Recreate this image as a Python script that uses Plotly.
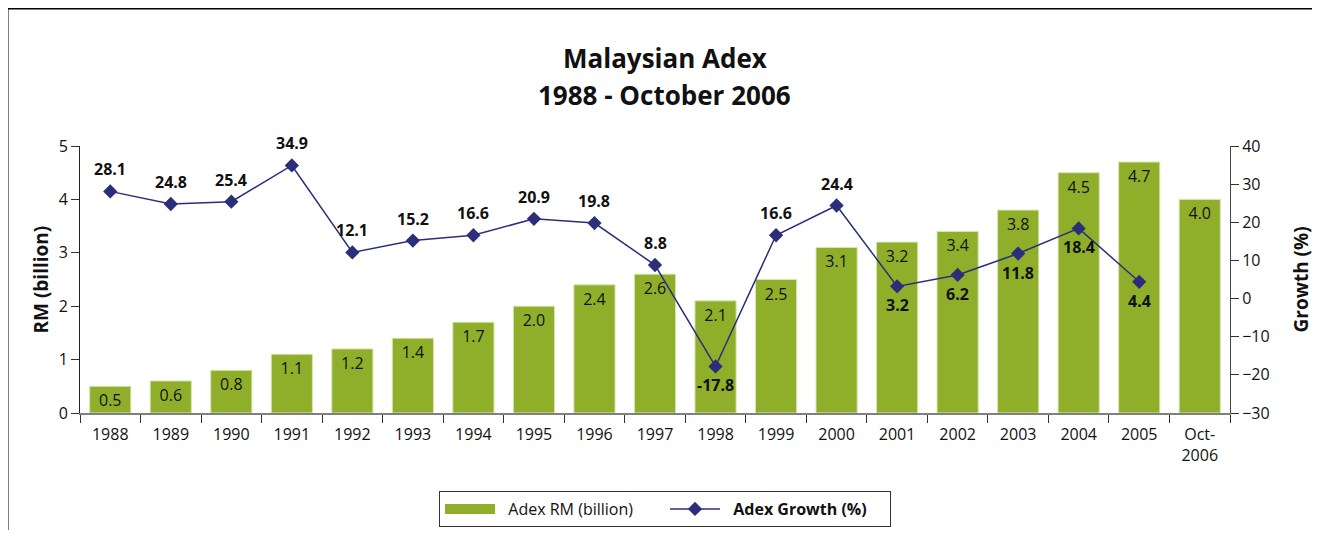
import plotly.graph_objects as go

categories = ["1988", "1989", "1990", "1991", "1992", "1993", "1994", "1995", "1996",
              "1997", "1998", "1999", "2000", "2001", "2002", "2003", "2004", "2005",
              "Oct-<br>2006"]
adex_rm = [0.5, 0.6, 0.8, 1.1, 1.2, 1.4, 1.7, 2.0, 2.4, 2.6, 2.1, 2.5, 3.1, 3.2, 3.4,
           3.8, 4.5, 4.7, 4.0]
growth = [28.1, 24.8, 25.4, 34.9, 12.1, 15.2, 16.6, 20.9, 19.8, 8.8, -17.8, 16.6, 24.4,
          3.2, 6.2, 11.8, 18.4, 4.4, None]
growth_label_pos = ["above"] * 10 + ["below", "above", "above", "below", "below",
                                     "below", "below", "below", None]

FONT = "Open Sans"
GREEN = "#8FAF2B"
NAVY = "#2B2F7A"

# The page body has an 8px margin; work in reference pixel coordinates
OFF = 8
W, H = 1322 - 2 * OFF, 538 - 2 * OFF
L, R, T, B = 80, 1230, 146, 413          # plot area in reference pixels
def px(p):
    return (p - L) / (R - L)
def py(p):
    return (B - p) / (B - T)

fig = go.Figure()
fig.add_trace(go.Bar(
    x=categories, y=adex_rm, name="Adex RM (billion)", showlegend=False,
    marker=dict(color=GREEN, line=dict(color="#D8E4B0", width=1)),
    width=0.68,
    text=[f"{v:.1f}" for v in adex_rm], textposition="inside",
    insidetextanchor="end", constraintext="none",
    textfont=dict(family=FONT, size=16, color="#111111"),
    yaxis="y",
))
# legend swatch for the bars (wide rectangle like the original)
fig.add_trace(go.Scatter(
    x=[None], y=[None], name="&nbsp;&nbsp;Adex RM (billion)", mode="lines",
    line=dict(color=GREEN, width=12), yaxis="y", legendrank=1,
))
fig.add_trace(go.Scatter(
    x=categories, y=growth, name="&nbsp;&nbsp;<b>Adex Growth (%)</b>",
    mode="lines+markers",
    line=dict(color=NAVY, width=1.5),
    marker=dict(symbol="diamond", size=11, color=NAVY),
    yaxis="y2", legendrank=2,
))

annotations = []
for i, (g, pos) in enumerate(zip(growth, growth_label_pos)):
    if g is None:
        continue
    annotations.append(dict(
        x=i, y=g, xref="x", yref="y2", text=f"<b>{g:.1f}</b>", showarrow=False,
        xanchor="center", yanchor="middle",
        yshift=22 if pos == "above" else -19,
        font=dict(family=FONT, size=16, color="#111111"),
    ))

annotations += [
    dict(x=px(665), y=py(58), xref="paper", yref="paper", text="<b>Malaysian Adex</b>",
         xanchor="center", yanchor="middle",
         showarrow=False, font=dict(family=FONT, size=26, color="#111111")),
    dict(x=px(665), y=py(95), xref="paper", yref="paper", text="<b>1988 - October 2006</b>",
         xanchor="center", yanchor="middle",
         showarrow=False, font=dict(family=FONT, size=26, color="#111111")),
    dict(x=px(40), y=0.5, xref="paper", yref="paper", text="<b>RM (billion)</b>",
         xanchor="center", yanchor="middle",
         textangle=-90, showarrow=False, font=dict(family=FONT, size=19, color="#111111")),
    dict(x=px(1300), y=0.5, xref="paper", yref="paper", text="<b>Growth (%)</b>",
         xanchor="center", yanchor="middle",
         textangle=-90, showarrow=False, font=dict(family=FONT, size=19, color="#111111")),
]

shapes = [
    dict(type="line", xref="paper", yref="paper", x0=px(7), x1=px(7), y0=py(7), y1=py(545),
         line=dict(color="#000000", width=3)),
    dict(type="line", xref="paper", yref="paper", x0=px(6), x1=px(1312), y0=py(8), y1=py(8),
         line=dict(color="#000000", width=3)),
    dict(type="line", xref="paper", yref="paper", x0=px(1319), x1=px(1319), y0=py(8), y1=py(545),
         line=dict(color="#BBBBBB", width=1)),
]

fig.update_layout(
    width=W, height=H,
    margin=dict(l=L - OFF, r=W - (R - OFF), t=T - OFF, b=H - (B - OFF), autoexpand=False),
    paper_bgcolor="white", plot_bgcolor="white",
    font=dict(family=FONT, size=15, color="#111111"),
    showlegend=True,
    legend=dict(
        orientation="h", x=(665 - OFF) / W, xanchor="center", xref="container",
        y=(H - (509 - OFF)) / H, yanchor="middle", yref="container",
        bordercolor="#333333", borderwidth=1, bgcolor="white",
        font=dict(family=FONT, size=16, color="#111111"),
        itemwidth=50, entrywidth=160, entrywidthmode="pixels",
    ),
    xaxis=dict(
        type="category", range=[-0.5, len(categories) - 0.5],
        showline=True, linecolor="#7F7F7F", linewidth=2,
        ticks="outside", tickson="boundaries", ticklen=8, tickcolor="#333333",
        tickfont=dict(family=FONT, size=16, color="#111111"),
        ticklabelstandoff=6,
        showgrid=False, zeroline=False,
    ),
    yaxis=dict(
        range=[0, 5], dtick=1, showline=True, linecolor="#222222", linewidth=1,
        ticks="outside", ticklen=8, tickcolor="#333333",
        tickfont=dict(family=FONT, size=16, color="#111111"),
        showgrid=False, zeroline=False,
    ),
    yaxis2=dict(
        range=[-30, 40], dtick=10, overlaying="y", side="right",
        showline=True, linecolor="#444444", linewidth=1,
        ticks="outside", ticklen=8, tickcolor="#333333",
        tickfont=dict(family=FONT, size=16, color="#111111"),
        showgrid=False, zeroline=False,
    ),
    annotations=annotations,
    shapes=shapes,
)

fig.write_html("out.html")
